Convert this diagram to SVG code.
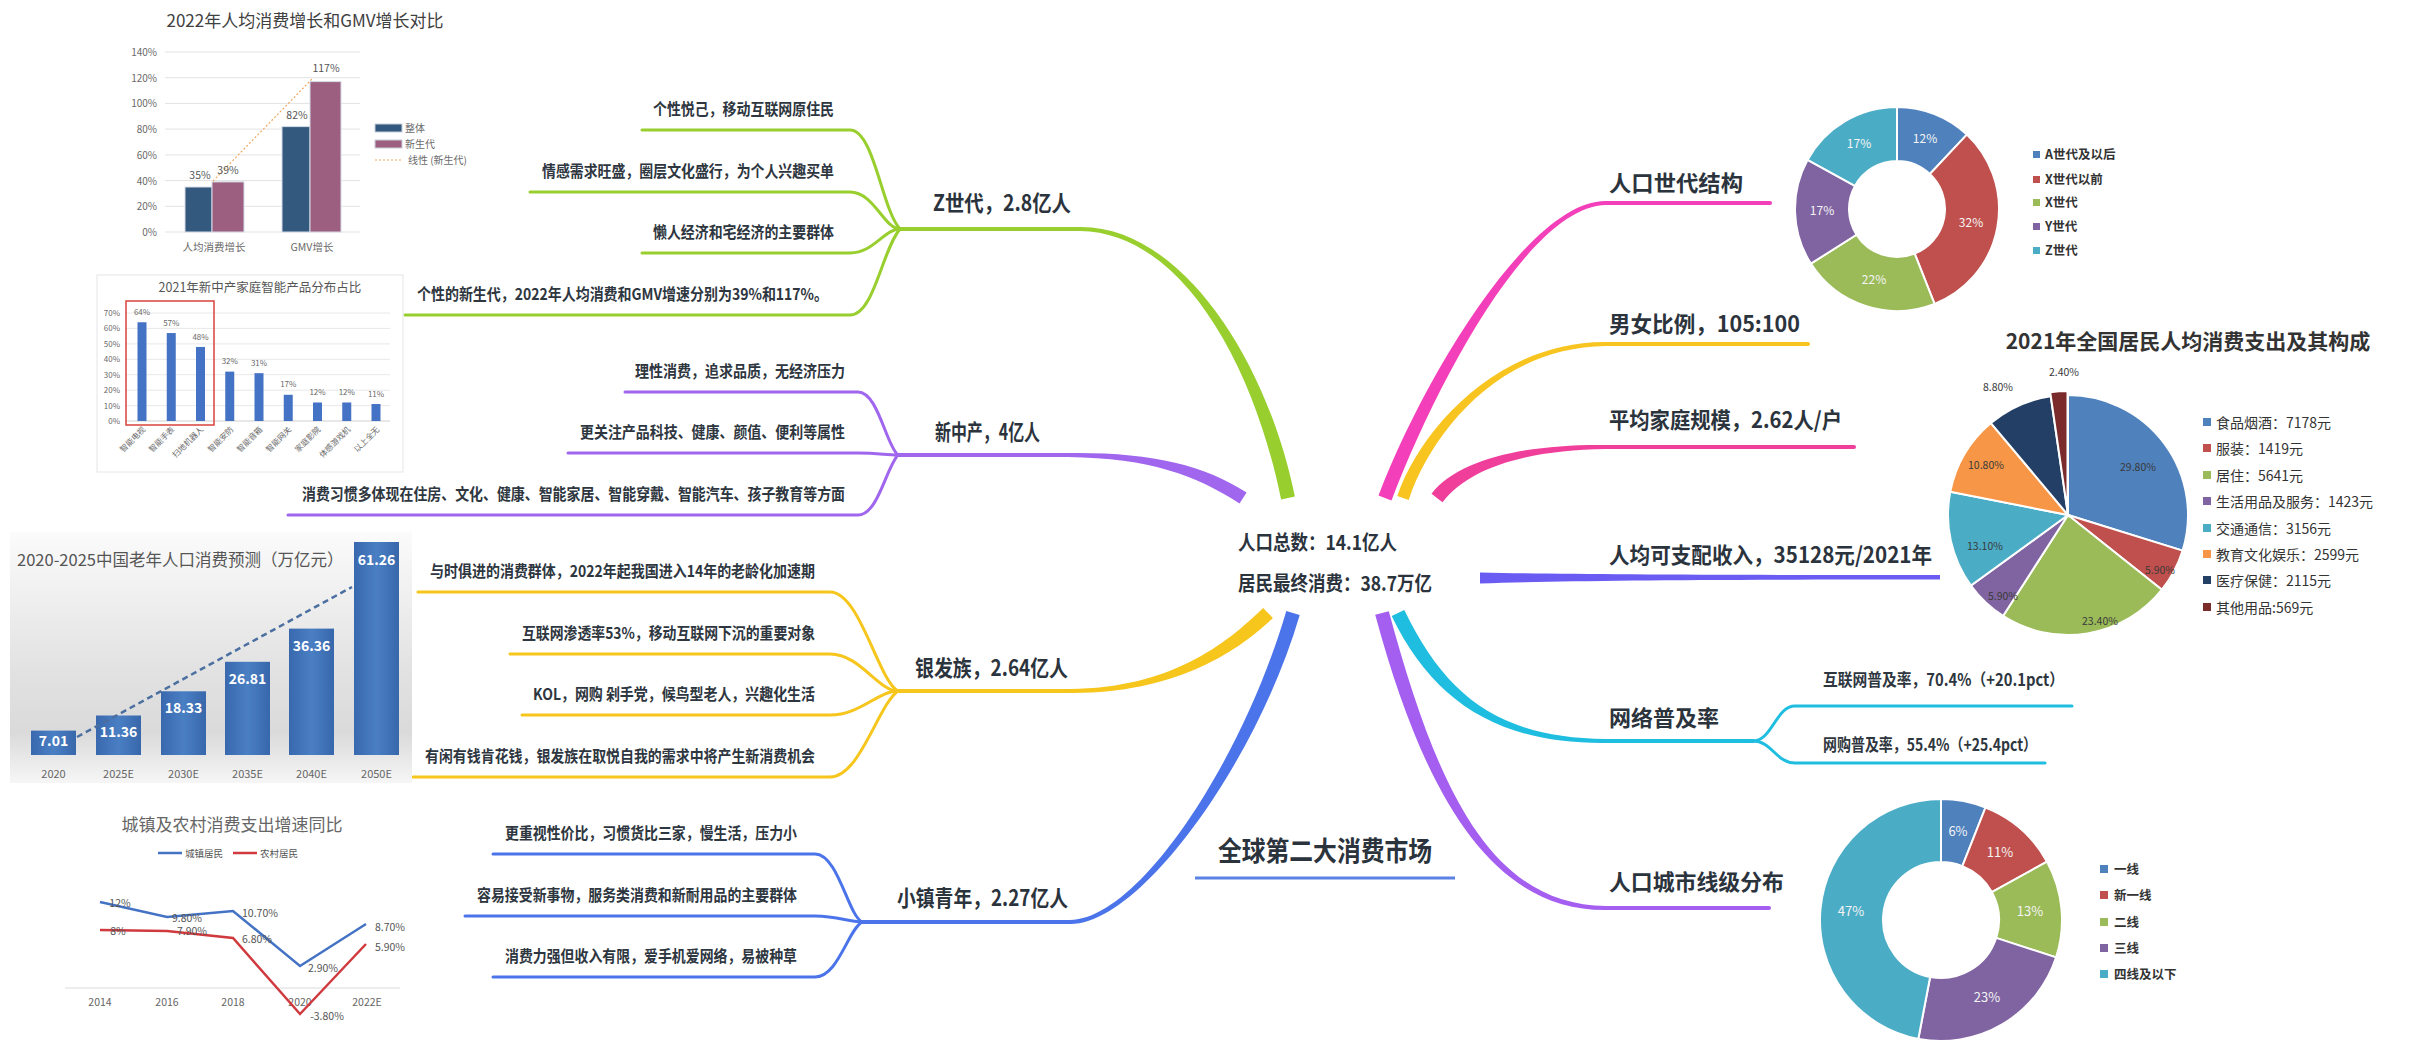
<svg xmlns="http://www.w3.org/2000/svg" width="2433" height="1041" viewBox="0 0 2433 1041">
<defs>
<style>
text{font-family:'Noto Sans CJK SC','Noto Sans',sans-serif}
.main{font-size:22px;font-weight:700;fill:#2b333d}
.sub{font-size:16px;font-weight:700;fill:#2e3640}
.ctr{font-size:20px;font-weight:700;fill:#2b333d}
.fan{fill:none;stroke-width:3;stroke-linecap:round}
.ul{fill:none;stroke-width:4;stroke-linecap:round}
.ax{font-size:10px;fill:#6a6a6a}
.ax8{font-size:8px;fill:#6a6a6a}
.val{font-size:10.5px;fill:#555}
.lg{font-size:12.5px;font-weight:700;fill:#333}
.lg2{font-size:14px;fill:#333}
.w{font-size:12px;fill:#f4f4f4}
.pl{font-size:10.5px;fill:#3a3a3a}
.slice{stroke:#fff;stroke-width:2}
</style>
<linearGradient id="bg3" x1="0" y1="0" x2="0" y2="1">
<stop offset="0" stop-color="#fbfbfb"/>
<stop offset="0.55" stop-color="#e2e2e2"/>
<stop offset="0.8" stop-color="#dadada"/>
<stop offset="1" stop-color="#f6f6f6"/>
</linearGradient>
<linearGradient id="bar3" x1="0" y1="0" x2="1" y2="0">
<stop offset="0" stop-color="#3968ad"/>
<stop offset="0.5" stop-color="#4a7fc4"/>
<stop offset="1" stop-color="#3867ab"/>
</linearGradient>
</defs>
<rect width="2433" height="1041" fill="#fff"/>

<g id="connectors">
<path fill="#98cf2e" d="M1294.9,496.6 C1266.9,358.6 1180,226 1080,227 L1080,231 C1180,232 1253.1,361.4 1281.1,499.4 Z"/>
<path fill="#a066ee" d="M1246.6,492.6 C1203.6,464.6 1150,452 1068,453 L1068,457 C1150,458 1196.5,475.5 1239.5,503.5 Z"/>
<path fill="#f6c61c" d="M1263.1,608 C1225.1,645 1170,688 1070,689 L1070,693 C1170,694 1234.9,655 1272.9,618 Z"/>
<path fill="#4c74ea" d="M1286.3,611 C1243.3,758 1140,919 1070,920 L1070,924 C1140,925 1256.7,762 1299.7,615 Z"/>
<path fill="#f43fba" d="M1391.5,500.5 C1436.5,382.5 1530,206 1606,205 L1606,201 C1530,200 1423.5,377.5 1378.5,495.5 Z"/>
<path fill="#f8c520" d="M1408.7,499.9 C1431.7,431.9 1500,347 1606,346 L1606,342 C1500,341 1420.3,428.1 1397.3,496.1 Z"/>
<path fill="#ef3f9a" d="M1442.5,502.3 C1470.5,466.3 1530,450 1606,449 L1606,445 C1530,444 1459.5,457.7 1431.5,493.7 Z"/>
<path fill="#6a5cf2" d="M1480,572.5 C1570,574.5 1700,575 1940,575 L1940,579.5 C1700,579.5 1570,580.5 1480,583.5 Z"/>
<path fill="#1fbde0" d="M1391.7,616 C1433.7,703 1500,744 1606,743 L1606,739 C1500,738 1446.3,697 1404.3,610 Z"/>
<path fill="#a45ef0" d="M1375.2,614.8 C1423.2,791.8 1490,911 1606,910 L1606,906 C1490,905 1436.8,788.2 1388.8,611.2 Z"/>
<path class="ul" stroke="#98cf2e" d="M900,229 H1080"/>
<path class="ul" stroke="#a066ee" d="M898,455 H1068"/>
<path class="ul" stroke="#f6c61c" d="M898,691 H1070"/>
<path class="ul" stroke="#4c74ea" d="M862,922 H1070"/>
<path class="ul" stroke="#f43fba" d="M1606,203 H1770"/>
<path class="ul" stroke="#f8c520" d="M1606,344 H1808"/>
<path class="ul" stroke="#ef3f9a" d="M1606,447 H1854"/>
<path class="ul" stroke="#1fbde0" d="M1606,741 H1753"/>
<path class="ul" stroke="#a45ef0" d="M1606,908 H1769"/>
<path fill="none" stroke="#5b82e4" stroke-width="3" d="M1195,878 H1455"/>
<g stroke="#98cf2e">
<path class="fan" d="M642,130 H850 C874,130 882,210 900,229"/>
<path class="fan" d="M530,192 H850 C874,192 884,229 900,229"/>
<path class="fan" d="M642,253 H850 C874,253 884,229 900,229"/>
<path class="fan" d="M405,315 H850 C874,315 882,250 900,229"/>
</g>
<g stroke="#a066ee">
<path class="fan" d="M625,392 H858 C878,392 886,445 898,455"/>
<path class="fan" d="M568,453 H858 C878,453 886,455 898,455"/>
<path class="fan" d="M288,515 H858 C878,515 886,468 898,455"/>
</g>
<g stroke="#f6c61c">
<path class="fan" d="M418,592 H830 C860,592 878,680 898,691"/>
<path class="fan" d="M510,654 H830 C860,654 878,691 898,691"/>
<path class="fan" d="M522,715 H830 C860,715 878,691 898,691"/>
<path class="fan" d="M413,777 H830 C860,777 878,705 898,691"/>
</g>
<g stroke="#4c74ea">
<path class="fan" d="M493,854 H815 C838,854 848,915 862,922"/>
<path class="fan" d="M465,916 H815 C838,916 848,922 862,922"/>
<path class="fan" d="M493,977 H815 C838,977 848,930 862,922"/>
</g>
<g stroke="#1fbde0">
<path class="fan" d="M1753,741 C1772,741 1776,706 1795,706 H2072"/>
<path class="fan" d="M1753,741 C1772,741 1776,763 1795,763 H2045"/>
</g>
</g>

<g id="node-center">
<text class="ctr" x="1238" y="550" textLength="159" lengthAdjust="spacingAndGlyphs">人口总数：14.1亿人</text>
<text class="ctr" x="1238" y="591" textLength="194" lengthAdjust="spacingAndGlyphs">居民最终消费：38.7万亿</text>
</g>
<g id="node-market">
<text x="1218" y="861" style="font-size:27px;font-weight:700;fill:#2b333d" textLength="214" lengthAdjust="spacingAndGlyphs">全球第二大消费市场</text>
</g>

<g id="node-zgen">
<text class="main" x="933" y="211" textLength="138" lengthAdjust="spacingAndGlyphs">Z世代，2.8亿人</text>
<text class="sub" x="653" y="115" textLength="181" lengthAdjust="spacingAndGlyphs">个性悦己，移动互联网原住民</text>
<text class="sub" x="542" y="177" textLength="292" lengthAdjust="spacingAndGlyphs">情感需求旺盛，圈层文化盛行，为个人兴趣买单</text>
<text class="sub" x="653" y="238" textLength="181" lengthAdjust="spacingAndGlyphs">懒人经济和宅经济的主要群体</text>
<text class="sub" x="417" y="300" textLength="411" lengthAdjust="spacingAndGlyphs">个性的新生代，2022年人均消费和GMV增速分别为39%和117%。</text>
</g>
<g id="node-middle">
<text class="main" x="935" y="440" textLength="105" lengthAdjust="spacingAndGlyphs">新中产，4亿人</text>
<text class="sub" x="635" y="377" textLength="210" lengthAdjust="spacingAndGlyphs">理性消费，追求品质，无经济压力</text>
<text class="sub" x="580" y="438" textLength="265" lengthAdjust="spacingAndGlyphs">更关注产品科技、健康、颜值、便利等属性</text>
<text class="sub" x="302" y="500" textLength="543" lengthAdjust="spacingAndGlyphs">消费习惯多体现在住房、文化、健康、智能家居、智能穿戴、智能汽车、孩子教育等方面</text>
</g>
<g id="node-silver">
<text class="main" x="915" y="676" textLength="153" lengthAdjust="spacingAndGlyphs">银发族，2.64亿人</text>
<text class="sub" x="430" y="577" textLength="385" lengthAdjust="spacingAndGlyphs">与时俱进的消费群体，2022年起我国进入14年的老龄化加速期</text>
<text class="sub" x="522" y="639" textLength="293" lengthAdjust="spacingAndGlyphs">互联网渗透率53%，移动互联网下沉的重要对象</text>
<text class="sub" x="533" y="700" textLength="282" lengthAdjust="spacingAndGlyphs">KOL，网购 剁手党，候鸟型老人，兴趣化生活</text>
<text class="sub" x="425" y="762" textLength="390" lengthAdjust="spacingAndGlyphs">有闲有钱肯花钱，银发族在取悦自我的需求中将产生新消费机会</text>
</g>
<g id="node-town">
<text class="main" x="897" y="906" textLength="171" lengthAdjust="spacingAndGlyphs">小镇青年，2.27亿人</text>
<text class="sub" x="505" y="839" textLength="292" lengthAdjust="spacingAndGlyphs">更重视性价比，习惯货比三家，慢生活，压力小</text>
<text class="sub" x="477" y="901" textLength="320" lengthAdjust="spacingAndGlyphs">容易接受新事物，服务类消费和新耐用品的主要群体</text>
<text class="sub" x="505" y="962" textLength="292" lengthAdjust="spacingAndGlyphs">消费力强但收入有限，爱手机爱网络，易被种草</text>
</g>

<g id="node-generation">
<text class="main" x="1609" y="191" textLength="134" lengthAdjust="spacingAndGlyphs">人口世代结构</text>
</g>
<g id="node-gender">
<text class="main" x="1609" y="332" textLength="191" lengthAdjust="spacingAndGlyphs">男女比例，105:100</text>
</g>
<g id="node-family">
<text class="main" x="1609" y="428" textLength="233" lengthAdjust="spacingAndGlyphs">平均家庭规模，2.62人/户</text>
</g>
<g id="node-income">
<text class="main" x="1609" y="563" textLength="323" lengthAdjust="spacingAndGlyphs">人均可支配收入，35128元/2021年</text>
</g>
<g id="node-internet">
<text class="main" x="1609" y="726" textLength="110" lengthAdjust="spacingAndGlyphs">网络普及率</text>
<text x="1823" y="686" style="font-size:16.5px;font-weight:700;fill:#2e3640" textLength="241" lengthAdjust="spacingAndGlyphs">互联网普及率，70.4%（+20.1pct）</text>
<text x="1823" y="751" style="font-size:16.5px;font-weight:700;fill:#2e3640" textLength="214" lengthAdjust="spacingAndGlyphs">网购普及率，55.4%（+25.4pct）</text>
</g>
<g id="node-city">
<text class="main" x="1609" y="890" textLength="175" lengthAdjust="spacingAndGlyphs">人口城市线级分布</text>
</g>

<g id="chart-gmv">
<text x="305" y="27" text-anchor="middle" style="font-size:17px;fill:#404040">2022年人均消费增长和GMV增长对比</text>
<g stroke="#e3e3e3" stroke-width="1">
<line x1="165" y1="52" x2="360" y2="52"/><line x1="165" y1="77.7" x2="360" y2="77.7"/>
<line x1="165" y1="103.4" x2="360" y2="103.4"/><line x1="165" y1="129.1" x2="360" y2="129.1"/>
<line x1="165" y1="154.9" x2="360" y2="154.9"/><line x1="165" y1="180.6" x2="360" y2="180.6"/>
<line x1="165" y1="206.3" x2="360" y2="206.3"/><line x1="165" y1="232" x2="360" y2="232"/>
</g>
<g text-anchor="end">
<text class="ax" x="157" y="56">140%</text><text class="ax" x="157" y="81.7">120%</text>
<text class="ax" x="157" y="107.4">100%</text><text class="ax" x="157" y="133.1">80%</text>
<text class="ax" x="157" y="158.9">60%</text><text class="ax" x="157" y="184.6">40%</text>
<text class="ax" x="157" y="210.3">20%</text><text class="ax" x="157" y="236">0%</text>
</g>
<g stroke="#d5dce6" stroke-width="1">
<rect x="185" y="187" width="27" height="45" fill="#34597e"/>
<rect x="212" y="181.9" width="32" height="50.1" fill="#9c5f80"/>
<rect x="282" y="126.6" width="28" height="105.4" fill="#34597e"/>
<rect x="310" y="81.6" width="31" height="150.4" fill="#9c5f80"/>
</g>
<line x1="213" y1="181" x2="312" y2="79" stroke="#eea860" stroke-width="1.2" stroke-dasharray="2 2"/>
<text class="val" x="200" y="179" text-anchor="middle">35%</text>
<text class="val" x="228" y="174" text-anchor="middle">39%</text>
<text class="val" x="297" y="119" text-anchor="middle">82%</text>
<text class="val" x="326" y="72" text-anchor="middle">117%</text>
<text class="ax" x="214" y="251" text-anchor="middle" style="font-size:10.5px">人均消费增长</text>
<text class="ax" x="312" y="251" text-anchor="middle" style="font-size:10.5px">GMV增长</text>
<rect x="375" y="124" width="27" height="8" fill="#34597e" stroke="#c8d0da"/>
<text class="ax" x="405" y="132">整体</text>
<rect x="375" y="140" width="27" height="8" fill="#9c5f80" stroke="#c8d0da"/>
<text class="ax" x="405" y="148">新生代</text>
<line x1="375" y1="160" x2="402" y2="160" stroke="#eea860" stroke-width="1" stroke-dasharray="2 2"/>
<text class="ax" x="408" y="164">线性 (新生代)</text>
</g>

<g id="chart-smart">
<rect x="97" y="275" width="306" height="197" fill="#fff" stroke="#e6e6e6"/>
<text x="260" y="292" text-anchor="middle" style="font-size:12.5px;fill:#555">2021年新中产家庭智能产品分布占比</text>
<g stroke="#e8e8e8">
<line x1="125" y1="313" x2="390" y2="313"/><line x1="125" y1="328.4" x2="390" y2="328.4"/>
<line x1="125" y1="343.9" x2="390" y2="343.9"/><line x1="125" y1="359.3" x2="390" y2="359.3"/>
<line x1="125" y1="374.7" x2="390" y2="374.7"/><line x1="125" y1="390.2" x2="390" y2="390.2"/>
<line x1="125" y1="405.6" x2="390" y2="405.6"/><line x1="125" y1="421" x2="390" y2="421" stroke="#d0d0d0"/>
</g>
<g text-anchor="end">
<text class="ax8" x="120" y="316">70%</text><text class="ax8" x="120" y="331.4">60%</text>
<text class="ax8" x="120" y="346.9">50%</text><text class="ax8" x="120" y="362.3">40%</text>
<text class="ax8" x="120" y="377.7">30%</text><text class="ax8" x="120" y="393.2">20%</text>
<text class="ax8" x="120" y="408.6">10%</text><text class="ax8" x="120" y="424">0%</text>
</g>
<g fill="#4472c4">
<rect x="137.5" y="322.25" width="9" height="98.75"/>
<rect x="166.75" y="333.05" width="9" height="87.95"/>
<rect x="196" y="346.94" width="9" height="74.06"/>
<rect x="225.25" y="371.62" width="9" height="49.38"/>
<rect x="254.5" y="373.17" width="9" height="47.83"/>
<rect x="283.75" y="394.77" width="9" height="26.23"/>
<rect x="313" y="402.48" width="9" height="18.52"/>
<rect x="342.25" y="402.48" width="9" height="18.52"/>
<rect x="371.5" y="404.03" width="9" height="16.97"/>
</g>
<g text-anchor="middle">
<text class="ax8" x="142" y="315">64%</text><text class="ax8" x="171.25" y="326">57%</text>
<text class="ax8" x="200.5" y="340">48%</text><text class="ax8" x="229.75" y="364">32%</text>
<text class="ax8" x="259" y="366">31%</text><text class="ax8" x="288.25" y="387">17%</text>
<text class="ax8" x="317.5" y="395">12%</text><text class="ax8" x="346.75" y="395">12%</text>
<text class="ax8" x="376" y="397">11%</text>
</g>
<rect x="126" y="301" width="88" height="124" fill="none" stroke="#d9423b" stroke-width="1.5"/>
<g text-anchor="end">
<text class="ax8" transform="translate(146,430) rotate(-45)">智能电视</text>
<text class="ax8" transform="translate(175,430) rotate(-45)">智能手表</text>
<text class="ax8" transform="translate(204,430) rotate(-45)">扫地机器人</text>
<text class="ax8" transform="translate(234,430) rotate(-45)">智能安防</text>
<text class="ax8" transform="translate(263,430) rotate(-45)">智能音箱</text>
<text class="ax8" transform="translate(292,430) rotate(-45)">智能网关</text>
<text class="ax8" transform="translate(321,430) rotate(-45)">家庭影院</text>
<text class="ax8" transform="translate(351,430) rotate(-45)">体感游戏机</text>
<text class="ax8" transform="translate(380,430) rotate(-45)">以上全无</text>
</g>
</g>

<g id="chart-elder">
<rect x="10" y="532" width="402" height="251" fill="url(#bg3)"/>
<text x="17" y="566" style="font-size:16.5px;fill:#555">2020-2025中国老年人口消费预测（万亿元）</text>
<g fill="url(#bar3)">
<rect x="31" y="730.6" width="45" height="24.4"/>
<rect x="96" y="715.5" width="45" height="39.5"/>
<rect x="161" y="691.3" width="45" height="63.7"/>
<rect x="225" y="661.8" width="45" height="93.2"/>
<rect x="289" y="628.6" width="45" height="126.4"/>
<rect x="354" y="542" width="45" height="213"/>
</g>
<line x1="77" y1="737" x2="352" y2="587" stroke="#4a6fa0" stroke-width="2.5" stroke-dasharray="6 4"/>
<g text-anchor="middle" style="font-size:14px;font-weight:700;fill:#fff">
<text x="53.5" y="746">7.01</text>
<text x="118.5" y="737">11.36</text>
<text x="183.5" y="713">18.33</text>
<text x="247.5" y="684">26.81</text>
<text x="311.5" y="651">36.36</text>
<text x="376.5" y="565">61.26</text>
</g>
<g text-anchor="middle" style="font-size:11px;fill:#666">
<text x="53.5" y="778">2020</text><text x="118.5" y="778">2025E</text>
<text x="183.5" y="778">2030E</text><text x="247.5" y="778">2035E</text>
<text x="311.5" y="778">2040E</text><text x="376.5" y="778">2050E</text>
</g>
</g>

<g id="chart-urban">
<text x="232" y="831" text-anchor="middle" style="font-size:17px;fill:#666">城镇及农村消费支出增速同比</text>
<line x1="158" y1="853" x2="182" y2="853" stroke="#4472c4" stroke-width="2.5"/>
<text x="185" y="857" style="font-size:9.5px;fill:#555">城镇居民</text>
<line x1="233" y1="853" x2="257" y2="853" stroke="#d0393e" stroke-width="2.5"/>
<text x="260" y="857" style="font-size:9.5px;fill:#555">农村居民</text>
<line x1="65" y1="988" x2="400" y2="988" stroke="#dadada"/>
<g text-anchor="middle" style="font-size:10.5px;fill:#666">
<text x="100" y="1006">2014</text><text x="167" y="1006">2016</text>
<text x="233" y="1006">2018</text><text x="300" y="1006">2020</text>
<text x="367" y="1006">2022E</text>
</g>
<polyline points="100,902 167,917 233,911 300,966 366,924" fill="none" stroke="#4472c4" stroke-width="2.5"/>
<polyline points="100,930 167,931 233,938 300,1014 366,944" fill="none" stroke="#d0393e" stroke-width="2.5"/>
<g text-anchor="middle" style="font-size:10.5px;fill:#555">
<text x="120" y="907">12%</text><text x="187" y="922">9.80%</text>
<text x="260" y="917">10.70%</text><text x="390" y="931">8.70%</text>
<text x="323" y="972">2.90%</text><text x="118" y="935">8%</text>
<text x="192" y="935">7.90%</text><text x="257" y="943">6.80%</text>
<text x="390" y="951">5.90%</text><text x="327" y="1020">-3.80%</text>
</g>
</g>

<g id="chart-generation">
<path class="slice" fill="#4f81bd" d="M1897,107 A102,102 0 0 1 1966.82,134.64 L1929.86,174.01 A48,48 0 0 0 1897,161 Z"/>
<path class="slice" fill="#c0504d" d="M1966.82,134.64 A102,102 0 0 1 1934.55,303.84 L1914.67,253.63 A48,48 0 0 0 1929.86,174.01 Z"/>
<path class="slice" fill="#9bbb59" d="M1934.55,303.84 A102,102 0 0 1 1810.88,263.65 L1856.47,234.72 A48,48 0 0 0 1914.67,253.63 Z"/>
<path class="slice" fill="#8064a2" d="M1810.88,263.65 A102,102 0 0 1 1807.62,159.86 L1854.94,185.87 A48,48 0 0 0 1856.47,234.72 Z"/>
<path class="slice" fill="#4bacc6" d="M1807.62,159.86 A102,102 0 0 1 1897,107 L1897,161 A48,48 0 0 0 1854.94,185.87 Z"/>
<g text-anchor="middle">
<text class="w" x="1925" y="143">12%</text><text class="w" x="1971" y="227">32%</text>
<text class="w" x="1874" y="284">22%</text><text class="w" x="1822" y="215">17%</text>
<text class="w" x="1859" y="148">17%</text>
</g>
<rect x="2033" y="151" width="7" height="7" fill="#4f81bd"/><text class="lg" x="2045" y="159">A世代及以后</text>
<rect x="2033" y="176" width="7" height="7" fill="#c0504d"/><text class="lg" x="2045" y="184">X世代以前</text>
<rect x="2033" y="199" width="7" height="7" fill="#9bbb59"/><text class="lg" x="2045" y="207">X世代</text>
<rect x="2033" y="223" width="7" height="7" fill="#8064a2"/><text class="lg" x="2045" y="231">Y世代</text>
<rect x="2033" y="247" width="7" height="7" fill="#4bacc6"/><text class="lg" x="2045" y="255">Z世代</text>
</g>

<g id="chart-consumption">
<text x="2188" y="349" text-anchor="middle" style="font-size:21px;font-weight:600;fill:#333">2021年全国居民人均消费支出及其构成</text>
<path class="slice" fill="#4f81bd" d="M2068,515 L2068,395 A120,120 0 0 1 2182.59,550.64 Z"/>
<path class="slice" fill="#c0504d" d="M2068,515 L2182.59,550.64 A120,120 0 0 1 2161.89,589.74 Z"/>
<path class="slice" fill="#9bbb59" d="M2068,515 L2161.89,589.74 A120,120 0 0 1 2003.07,615.92 Z"/>
<path class="slice" fill="#8064a2" d="M2068,515 L2003.07,615.92 A120,120 0 0 1 1970.92,585.54 Z"/>
<path class="slice" fill="#4bacc6" d="M2068,515 L1970.92,585.54 A120,120 0 0 1 1950.27,491.77 Z"/>
<path class="slice" fill="#f79646" d="M2068,515 L1950.27,491.77 A120,120 0 0 1 1990.92,423.02 Z"/>
<path class="slice" fill="#243f66" d="M2068,515 L1990.92,423.02 A120,120 0 0 1 2050.72,396.25 Z"/>
<path class="slice" fill="#7b2b2b" transform="translate(-0.5,-4)" d="M2068,515 L2050.72,396.25 A120,120 0 0 1 2068,395 Z"/>
<g text-anchor="middle">
<text class="pl" x="2138" y="471">29.80%</text>
<text class="pl" x="2160" y="574">5.90%</text>
<text class="pl" x="2100" y="625">23.40%</text>
<text class="pl" x="2003" y="600">5.90%</text>
<text class="pl" x="1985" y="550">13.10%</text>
<text class="pl" x="1986" y="469">10.80%</text>
<text class="pl" x="1998" y="391">8.80%</text>
<text class="pl" x="2064" y="376">2.40%</text>
</g>
<rect x="2203" y="418" width="8" height="8" fill="#4f81bd"/><text class="lg2" x="2216" y="428">食品烟酒：7178元</text>
<rect x="2203" y="444" width="8" height="8" fill="#c0504d"/><text class="lg2" x="2216" y="454">服装：1419元</text>
<rect x="2203" y="471" width="8" height="8" fill="#9bbb59"/><text class="lg2" x="2216" y="481">居住：5641元</text>
<rect x="2203" y="497" width="8" height="8" fill="#8064a2"/><text class="lg2" x="2216" y="507">生活用品及服务：1423元</text>
<rect x="2203" y="524" width="8" height="8" fill="#4bacc6"/><text class="lg2" x="2216" y="534">交通通信：3156元</text>
<rect x="2203" y="550" width="8" height="8" fill="#f79646"/><text class="lg2" x="2216" y="560">教育文化娱乐：2599元</text>
<rect x="2203" y="576" width="8" height="8" fill="#243f66"/><text class="lg2" x="2216" y="586">医疗保健：2115元</text>
<rect x="2203" y="603" width="8" height="8" fill="#7b2b2b"/><text class="lg2" x="2216" y="613">其他用品:569元</text>
</g>

<g id="chart-city">
<path class="slice" fill="#4f81bd" d="M1941,799 A121,121 0 0 1 1985.54,807.49 L1962.35,866.07 A58,58 0 0 0 1941,862 Z"/>
<path class="slice" fill="#c0504d" d="M1985.54,807.49 A121,121 0 0 1 2047.03,861.7 L1991.83,892.06 A58,58 0 0 0 1962.35,866.07 Z"/>
<path class="slice" fill="#9bbb59" d="M2047.03,861.7 A121,121 0 0 1 2056.08,957.39 L1996.16,937.92 A58,58 0 0 0 1991.83,892.06 Z"/>
<path class="slice" fill="#8064a2" d="M2056.08,957.39 A121,121 0 0 1 1918.32,1038.86 L1930.13,976.97 A58,58 0 0 0 1996.16,937.92 Z"/>
<path class="slice" fill="#4bacc6" d="M1918.32,1038.86 A121,121 0 0 1 1941,799 L1941,862 A58,58 0 0 0 1930.13,976.97 Z"/>
<g text-anchor="middle" style="font-size:13px;fill:#f4f4f4">
<text x="1958" y="836">6%</text><text x="2000" y="857">11%</text>
<text x="2030" y="916">13%</text><text x="1987" y="1002">23%</text>
<text x="1851" y="916">47%</text>
</g>
<rect x="2100" y="865" width="8" height="8" fill="#4f81bd"/><text class="lg" x="2114" y="874">一线</text>
<rect x="2100" y="891" width="8" height="8" fill="#c0504d"/><text class="lg" x="2114" y="900">新一线</text>
<rect x="2100" y="918" width="8" height="8" fill="#9bbb59"/><text class="lg" x="2114" y="927">二线</text>
<rect x="2100" y="944" width="8" height="8" fill="#8064a2"/><text class="lg" x="2114" y="953">三线</text>
<rect x="2100" y="970" width="8" height="8" fill="#4bacc6"/><text class="lg" x="2114" y="979">四线及以下</text>
</g>
</svg>
